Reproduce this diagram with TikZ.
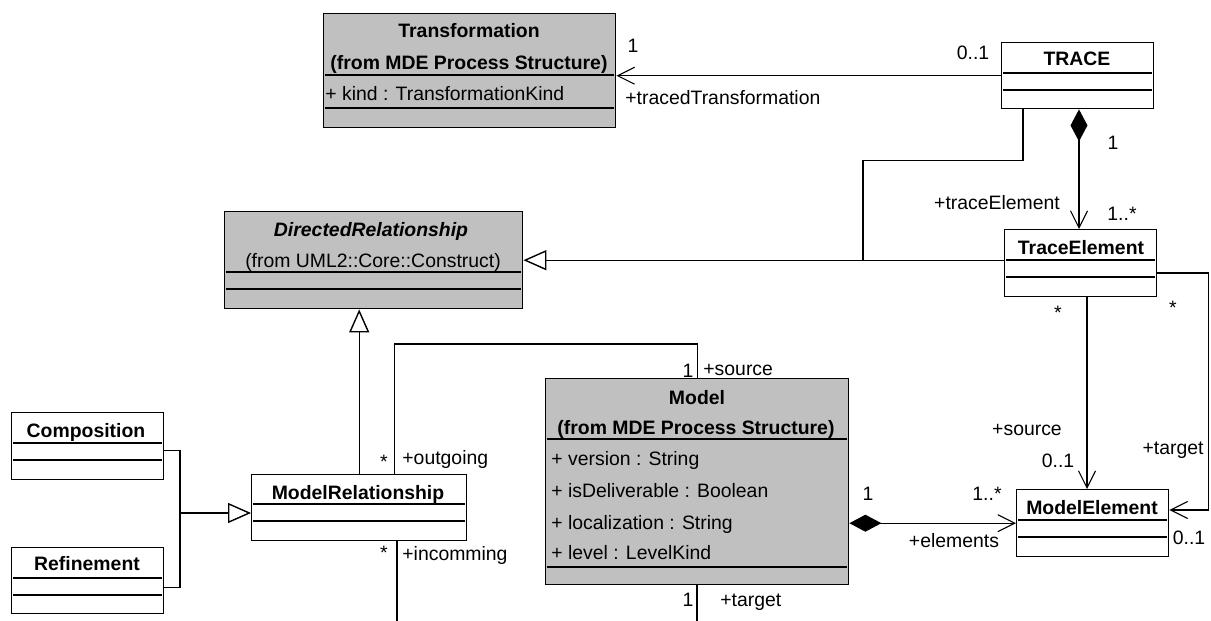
\documentclass[tikz,border=0pt]{standalone}
\usepackage{fontspec}
\setmainfont{Liberation Sans}
\usepackage{xcolor}
\usetikzlibrary{arrows.meta}
\definecolor{classgray}{HTML}{C0C0C0}
\tikzset{
  class box/.style={draw, line width=0.7pt, inner sep=0pt, anchor=north west, fill=white},
  class gray/.style={class box, fill=classgray},
  sep/.style={line width=0.7pt},
  txt/.style={inner sep=0pt, text height=7pt, text depth=0pt, font=\fontsize{9.7}{11}\selectfont},
  title/.style={txt, font=\fontsize{9.7}{11}\selectfont\bfseries},
  attr/.style={txt, anchor=west},
  assoc/.style={draw, line width=0.7pt},
  nav/.style={assoc, -{Straight Barb[length=8.5pt,width=8.5pt,line width=0.55pt 0]}},
  owns/.style={assoc, {Diamond[length=16pt,width=8.5pt]}-{Straight Barb[length=8.5pt,width=8.5pt,line width=0.55pt 0]}},
  gen/.style={assoc, -{Triangle[open,fill=white,length=11.5pt,width=10pt]}}
}
\begin{document}
\begin{tikzpicture}[x=0.5pt,y=-0.5pt]
  \useasboundingbox (0,0) rectangle (1211,621);
  % classes
  \node[class gray, minimum width=146pt, minimum height=57pt] (transf) at (323,13) {};
  \node[class box, minimum width=76pt, minimum height=33pt] (trace) at (1001,42) {};
  \node[class gray, minimum width=149pt, minimum height=48.5pt] (dirrel) at (224,211) {};
  \node[class box, minimum width=76pt, minimum height=33.5pt] (traceel) at (1004,229) {};
  \node[class box, minimum width=76pt, minimum height=33.5pt] (compo) at (11,412) {};
  \node[class box, minimum width=76pt, minimum height=33pt] (refin) at (11,547) {};
  \node[class box, minimum width=107.5pt, minimum height=33pt] (modrel) at (251,474) {};
  \node[class gray, minimum width=151.5pt, minimum height=103pt] (model) at (545,378) {};
  \node[class box, minimum width=76pt, minimum height=33.5pt] (modelel) at (1016,489) {};
  \foreach \n in {trace,traceel,compo,refin,modelel} {
    \draw[sep] ([shift={(1pt,-15.5pt)}]\n.north west) -- ([shift={(-1pt,-15.5pt)}]\n.north east);
    \draw[sep] ([shift={(1pt,-24pt)}]\n.north west) -- ([shift={(-1pt,-24pt)}]\n.north east);
  }
  \draw[sep] ([shift={(1pt,-15pt)}]modrel.north west) -- ([shift={(-1pt,-15pt)}]modrel.north east);
  \draw[sep] ([shift={(1pt,-23.5pt)}]modrel.north west) -- ([shift={(-1pt,-23.5pt)}]modrel.north east);
  \draw[sep] ([shift={(1pt,-31pt)}]transf.north west) -- ([shift={(-1pt,-31pt)}]transf.north east);
  \draw[sep] ([shift={(1pt,-47.5pt)}]transf.north west) -- ([shift={(-1pt,-47.5pt)}]transf.north east);
  \draw[sep] ([shift={(1pt,-30.5pt)}]dirrel.north west) -- ([shift={(-1pt,-30.5pt)}]dirrel.north east);
  \draw[sep] ([shift={(1pt,-39pt)}]dirrel.north west) -- ([shift={(-1pt,-39pt)}]dirrel.north east);
  \draw[sep] ([shift={(1pt,-30.5pt)}]model.north west) -- ([shift={(-1pt,-30.5pt)}]model.north east);
  \draw[sep] ([shift={(1pt,-94.5pt)}]model.north west) -- ([shift={(-1pt,-94.5pt)}]model.north east);
  % class texts
  \node[title] (transfname) at (469,30) {Transformation};
  \node[title] (transffrom) at (469,62) {(from MDE Process Structure)};
  \node[attr] (transfkind) at (325,93) {+ kind : TransformationKind};
  \node[title] (tracename) at (1077,58) {TRACE};
  \node[title, font=\fontsize{9.7}{11}\selectfont\bfseries\itshape] (dirrelname) at (371,229) {DirectedRelationship};
  \node[txt] (dirrelfrom) at (373,260) {(from UML2::Core::Construct)};
  \node[title] (traceelname) at (1081,247) {TraceElement};
  \node[title] (componame) at (86,430) {Composition};
  \node[title] (refinname) at (87,563) {Refinement};
  \node[title] (modrelname) at (358,492) {ModelRelationship};
  \node[title] (modelname) at (697,397) {Model};
  \node[title] (modelfrom) at (696,427) {(from MDE Process Structure)};
  \node[attr] (modelversion) at (551,458) {+ version : String};
  \node[attr] (modeldeliv) at (551,490) {+ isDeliverable : Boolean};
  \node[attr] (modelloc) at (551,522) {+ localization : String};
  \node[attr] (modellevel) at (551,552) {+ level : LevelKind};
  \node[title] (modelelname) at (1092,507) {ModelElement};
  % connectors
  \draw[nav] (trace.west) -- (trace.west -| transf.east);
  \draw[owns] ([xshift=39pt]trace.south west) coordinate (comptop) -- (comptop |- traceel.north);
  \draw[gen] (traceel.west |- dirrel.east) -- (dirrel.east);
  \coordinate (join) at (863,260);
  \draw[assoc] ([xshift=11pt]trace.south west) -- ++(0,51) -| (join);
  \draw[nav] ([xshift=41.5pt]traceel.south west) coordinate (srctop) -- (srctop |- modelel.north);
  \draw[nav] ([yshift=-22pt]traceel.north east) -- ++(51,0) |- ([yshift=-10.5pt]modelel.north east);
  \draw[owns] (modelel.west -| model.east) -- (modelel.west);
  \coordinate (genjoin) at (180,513);
  \draw[assoc] ([yshift=-2.25pt]compo.east) -| (genjoin) |- ([yshift=-3.5pt]refin.east);
  \draw[gen] (genjoin) -- (genjoin -| modrel.west);
  \draw[gen] (modrel.north) -- (modrel.north |- dirrel.south);
  \draw[assoc] ([xshift=17.75pt]modrel.north) -- ++(0,-130) -| (model.north);
  \coordinate (incend) at (397,621);
  \draw[assoc] (modrel.south -| incend) -- (incend);
  \coordinate (tgtend) at (697,621);
  \draw[assoc] (model.south -| tgtend) -- (tgtend);
  % role names and multiplicities
  \node[txt] (m01trace) at (973,52) {0..1};
  \node[txt] (m1transf) at (633,45) {1};
  \node[attr] (rtraced) at (625,97) {+tracedTransformation};
  \node[txt] (m1trace) at (1113,142) {1};
  \node[txt] (rtraceel) at (997,202) {+traceElement};
  \node[txt] (m1ntraceel) at (1122,213) {1..*};
  \node[txt] (mstarsrc) at (1058,312) {*};
  \node[txt] (mstartgt) at (1173,307) {*};
  \node[txt] (rsource) at (1027,428) {+source};
  \node[txt] (m01src) at (1058,460) {0..1};
  \node[txt] (rtarget) at (1173,447) {+target};
  \node[txt] (m01tgt) at (1189,537) {0..1};
  \node[txt] (m1model) at (868,493) {1};
  \node[txt] (m1nelem) at (987,493) {1..*};
  \node[txt] (relements) at (954,540) {+elements};
  \node[txt] (mstarout) at (384,461) {*};
  \node[attr] (routgoing) at (402,457) {+outgoing};
  \node[txt] (m1msrc) at (688,370) {1};
  \node[attr] (rmsource) at (703,368) {+source};
  \node[txt] (mstarinc) at (384,552) {*};
  \node[attr] (rincomming) at (402,553) {+incomming};
  \node[txt] (m1mtgt) at (688,599) {1};
  \node[attr] (rmtarget) at (720,599) {+target};
\end{tikzpicture}
\end{document}
